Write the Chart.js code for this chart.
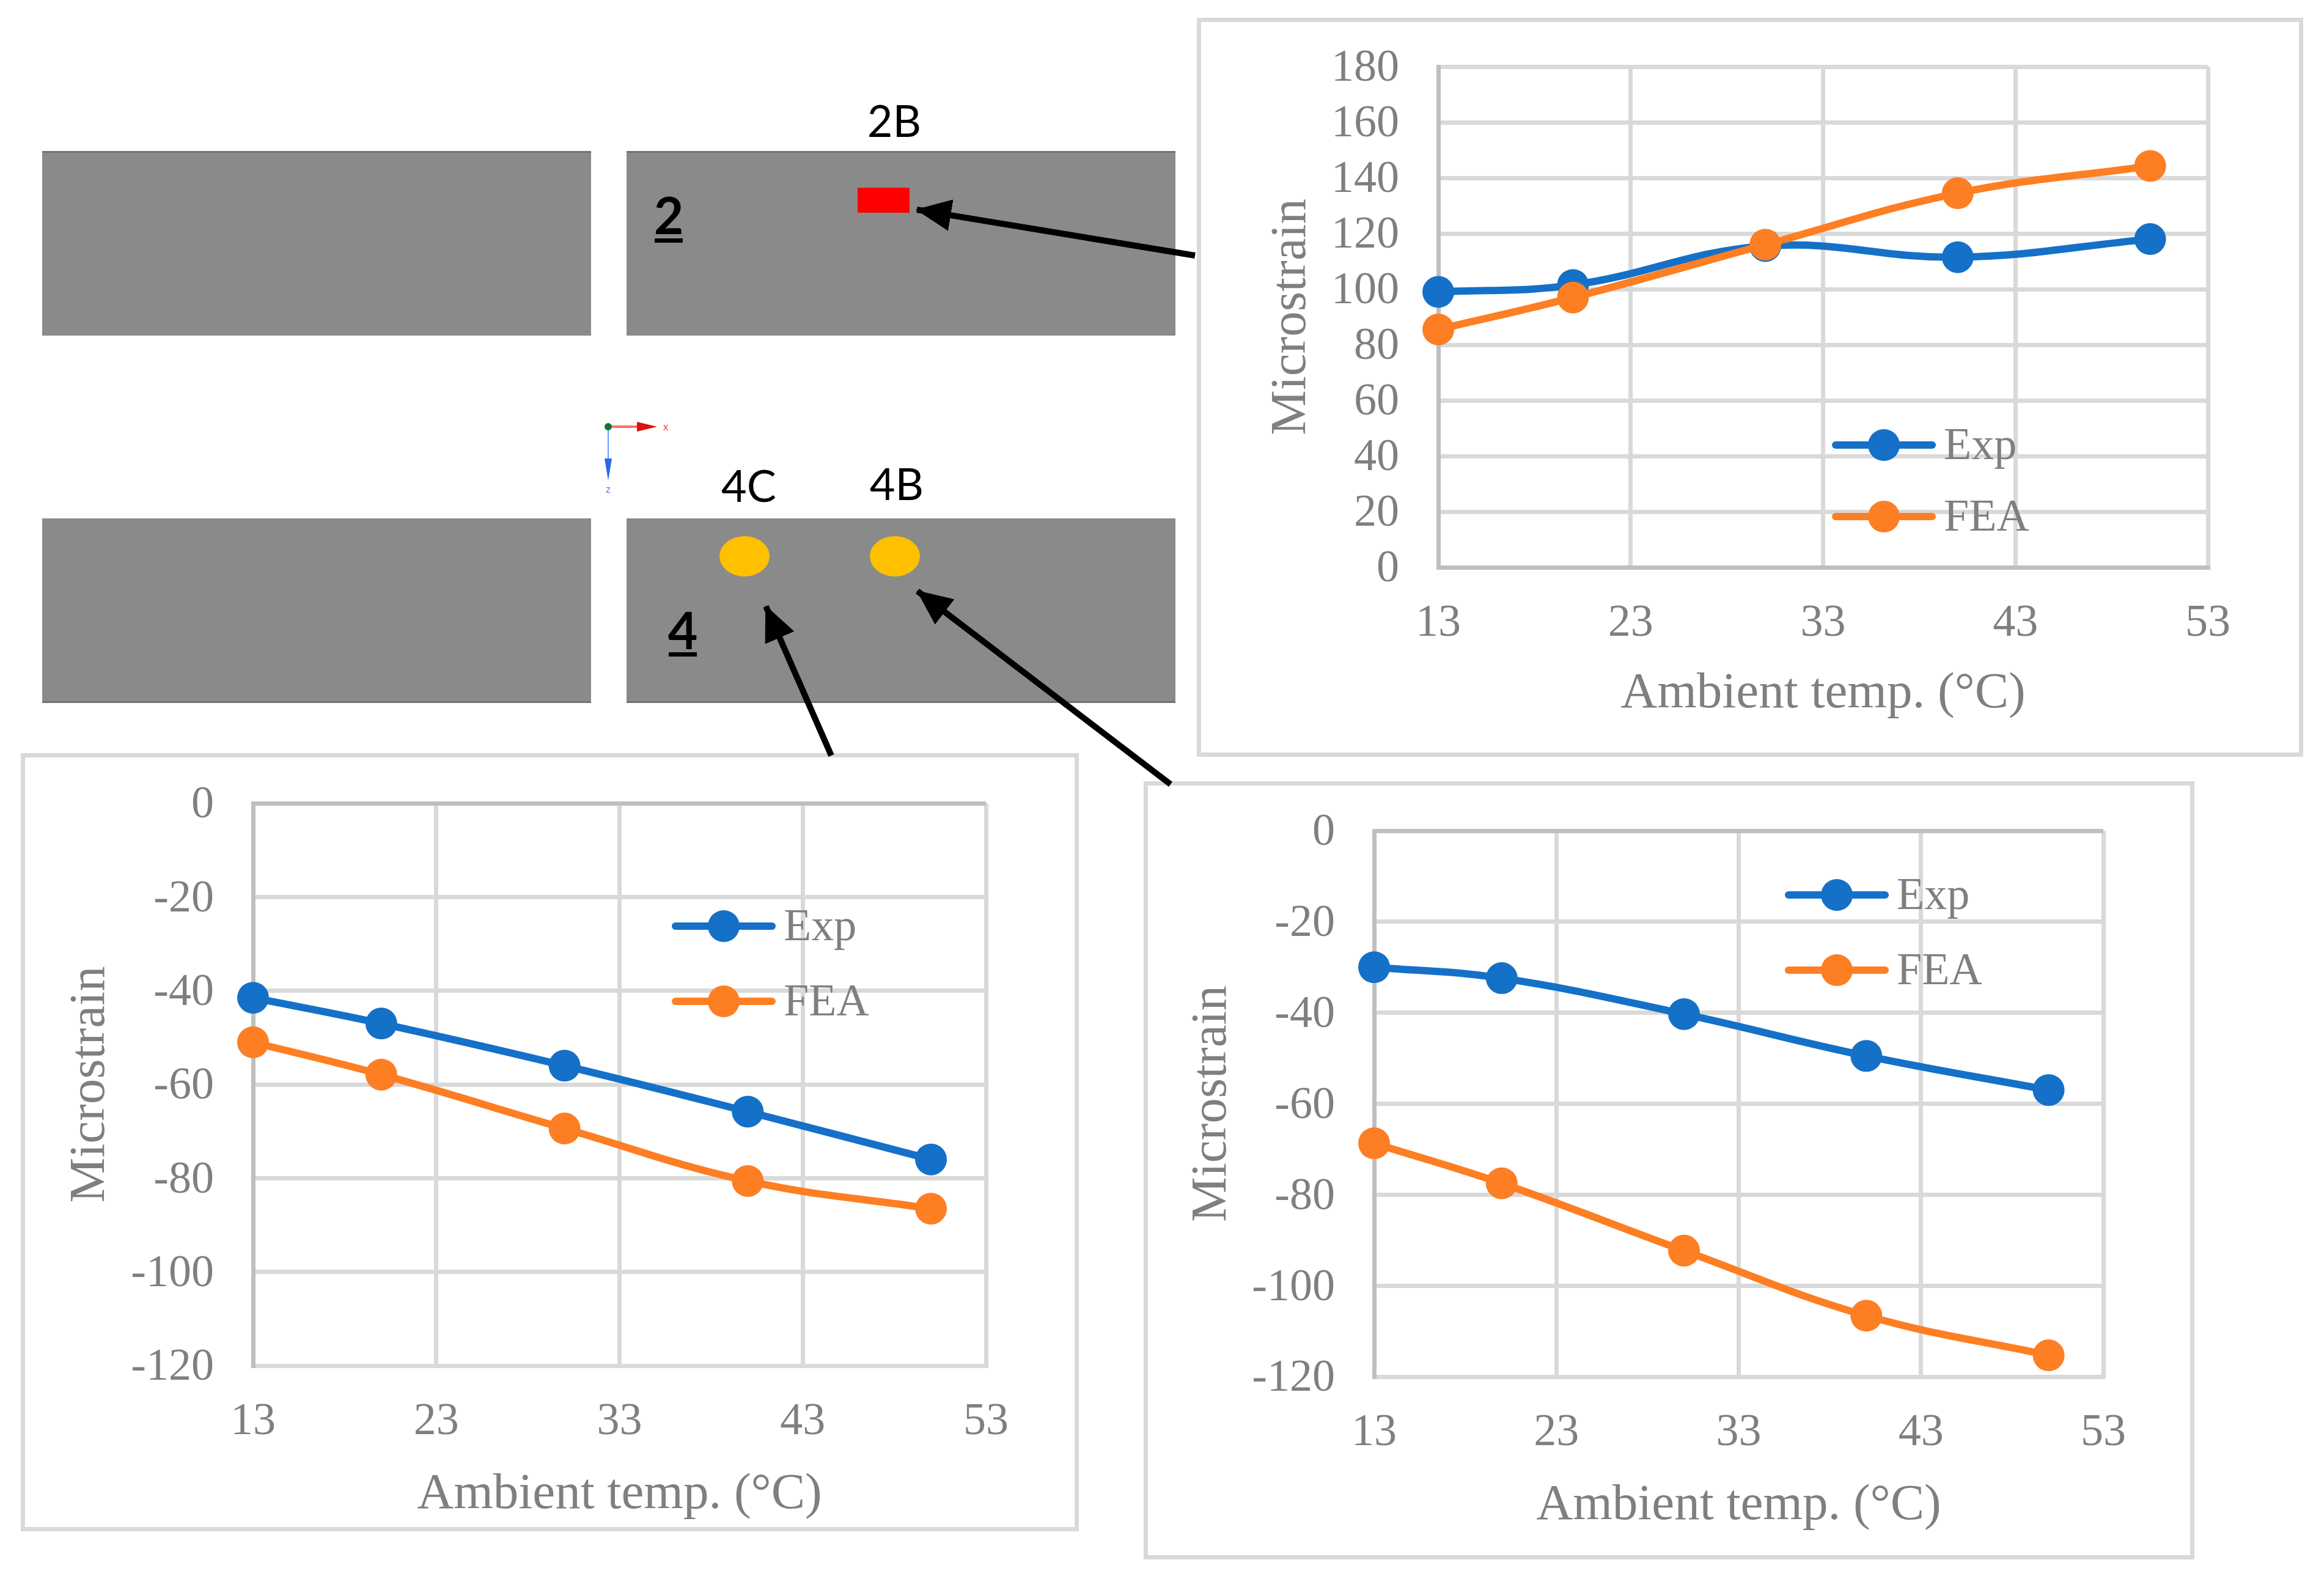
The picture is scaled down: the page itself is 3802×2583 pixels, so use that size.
<!DOCTYPE html>
<html>
<head>
<meta charset="utf-8">
<title>Microstrain vs ambient temperature</title>
<script src="https://cdn.jsdelivr.net/npm/chart.js@4"></script>
<style>
    html, body { margin: 0; padding: 0; background: #ffffff; }
    #page { position: relative; width: 3802px; height: 2583px; overflow: hidden; background: #ffffff; }
    #schematic { position: absolute; left: 0; top: 0; }
    .frame { position: absolute; box-sizing: border-box; border: 7px solid #d9d9d9; background: #ffffff; }
    canvas.panel { position: absolute; }
</style>
</head>
<body>
<div id="page">
    <div class="frame" id="frame2B"></div>
    <div class="frame" id="frame4C"></div>
    <div class="frame" id="frame4B"></div>
    <canvas class="panel" id="chart2B"></canvas>
    <canvas class="panel" id="chart4C"></canvas>
    <canvas class="panel" id="chart4B"></canvas>

    <svg id="schematic" width="3802" height="2583" xmlns="http://www.w3.org/2000/svg">
        <defs>
            <marker id="head" markerUnits="userSpaceOnUse" markerWidth="58" markerHeight="52" refX="56" refY="26" orient="auto">
                <path d="M0,0 L58,26 L0,52 Z" fill="#000"></path>
            </marker>
        </defs>
        <g fill="#8a8a8a">
            <rect x="69" y="248" width="898" height="301"></rect>
            <rect x="1025" y="248" width="898" height="301"></rect>
            <rect x="69" y="848" width="898" height="301"></rect>
            <rect x="1025" y="848" width="898" height="301"></rect>
        </g>
        <g fill="#727272">
            <rect x="69" y="247" width="898" height="3"></rect>
            <rect x="1025" y="247" width="898" height="3"></rect>
            <rect x="69" y="1147" width="898" height="3"></rect>
            <rect x="1025" y="1147" width="898" height="3"></rect>
        </g>
        <rect x="1403" y="307" width="85" height="41" fill="#ff0000"></rect>
        <ellipse cx="1218" cy="910" rx="41" ry="33" fill="#ffc000"></ellipse>
        <ellipse cx="1464" cy="910" rx="41" ry="33" fill="#ffc000"></ellipse>

        <g font-family="Lato" font-size="72" fill="#000" text-anchor="middle">
            <text x="1463" y="224">2B</text>
            <text x="1225" y="821">4C</text>
            <text x="1467" y="818">4B</text>
        </g>
        <g font-family="Lato" font-size="84" font-weight="bold" fill="#000" text-anchor="middle">
            <text x="1094" y="383">2</text>
            <text x="1117" y="1062">4</text>
        </g>
        <rect x="1071" y="390" width="46" height="7" fill="#000"></rect>
        <rect x="1094" y="1067" width="46" height="7" fill="#000"></rect>

        <!-- axis triad -->
        <line x1="995" y1="698" x2="1048" y2="698" stroke="#ff6a6a" stroke-width="4"></line>
        <path d="M1042,690 L1075,698 L1042,706 Z" fill="#e01010"></path>
        <line x1="995" y1="698" x2="995" y2="750" stroke="#6a9cff" stroke-width="2"></line>
        <path d="M989,750 L1001,750 L995,786 Z" fill="#2a6ae0"></path>
        <circle cx="995" cy="698" r="6" fill="#0b7a2b"></circle>
        <text x="1089" y="704" font-family="Liberation Sans" font-size="16" fill="#e04040" text-anchor="middle">x</text>
        <text x="995" y="806" font-family="Liberation Sans" font-size="16" fill="#6a7cf0" text-anchor="middle">z</text>

        <!-- pointers from the plots to the gauges -->
        <g stroke="#000" stroke-width="10" marker-end="url(#head)">
            <line x1="1955" y1="418" x2="1500" y2="343"></line>
            <line x1="1360" y1="1236" x2="1253" y2="992"></line>
            <line x1="1915" y1="1283" x2="1501" y2="967"></line>
        </g>
    </svg>
</div>

<script>
// Data
const ambientTemp = [13, 20, 30, 40, 50];
const tempTicks = [13, 23, 33, 43, 53];
const seriesNames = ['Exp', 'FEA'];

const exp2B = [99, 101.5, 115.5, 111.5, 118];
const fea2B = [85.5, 97, 116, 134.5, 144.3];
const ticks2B = [0, 20, 40, 60, 80, 100, 120, 140, 160, 180];

const exp4C = [-41.5, -47, -56, -65.8, -76];
const fea4C = [-51, -57.9, -69.4, -80.6, -86.5];
const ticks4C = [-120, -100, -80, -60, -40, -20, 0];

const exp4B = [-30, -32.4, -40.3, -49.5, -57];
const fea4B = [-68.7, -77.5, -92.3, -106.6, -115.3];
const ticks4B = [-120, -100, -80, -60, -40, -20, 0];

const BLUE = '#1570c8';
const ORANGE = '#fd7e23';
const GRID = '#d9d9d9';
const AXIS = '#bfbfbf';
const TEXT = '#7f7f7f';
const SERIF = '"Liberation Serif"';

// Draws the line + marker legend inside the plot, where the original has it
const lineLegend = {
    id: 'lineLegend',
    afterDatasetsDraw(chart, args, opts) {
        const ctx = chart.ctx;
        ctx.save();
        chart.data.datasets.forEach((ds, i) => {
            const y = opts.y[i];
            ctx.strokeStyle = ds.borderColor;
            ctx.lineWidth = 12;
            ctx.lineCap = 'round';
            ctx.beginPath();
            ctx.moveTo(opts.x + 6, y);
            ctx.lineTo(opts.x + 164, y);
            ctx.stroke();
            ctx.fillStyle = ds.borderColor;
            ctx.beginPath();
            ctx.arc(opts.x + 85, y, 26, 0, Math.PI * 2);
            ctx.fill();
            ctx.fillStyle = TEXT;
            ctx.font = '74px ' + SERIF;
            ctx.textBaseline = 'middle';
            ctx.textAlign = 'left';
            ctx.fillText(ds.label, opts.x + 183, y + 4);
        });
        ctx.restore();
    }
};

function makePanel(id, frameId, box, plot, titleGap, xHeight, yTicks, expValues, feaValues, legend) {
    const frame = document.getElementById(frameId);
    frame.style.left = box.left + 'px';
    frame.style.top = box.top + 'px';
    frame.style.width = box.width + 'px';
    frame.style.height = box.height + 'px';

    const canvas = document.getElementById(id);
    canvas.style.left = box.left + 'px';
    canvas.style.top = box.top + 'px';
    canvas.width = box.width;
    canvas.height = box.height;

    const yWidth = titleGap + 50;
    const hasZeroAtTop = yTicks[yTicks.length - 1] === 0;

    const line = (label, values, color, order) => ({
        label: label,
        data: ambientTemp.map((t, i) => ({ x: t, y: values[i] })),
        borderColor: color,
        backgroundColor: color,
        borderWidth: 12,
        borderCapStyle: 'round',
        tension: 0.4,
        pointRadius: 26,
        pointHoverRadius: 26,
        pointBorderWidth: 0,
        pointBackgroundColor: color,
        clip: false,
        order: order
    });

    return new Chart(canvas, {
        type: 'line',
        data: {
            datasets: [
                line(seriesNames[0], expValues, BLUE, 2),
                line(seriesNames[1], feaValues, ORANGE, 1)
            ]
        },
        plugins: [lineLegend],
        options: {
            responsive: false,
            animation: false,
            devicePixelRatio: 1,
            layout: {
                padding: {
                    left: plot.left - box.left - yWidth,
                    top: plot.top - box.top,
                    right: box.left + box.width - plot.right,
                    bottom: box.top + box.height - plot.bottom - xHeight
                }
            },
            plugins: {
                legend: { display: false },
                tooltip: { enabled: false },
                lineLegend: {
                    x: legend.x - box.left,
                    y: legend.y.map(v => v - box.top)
                }
            },
            scales: {
                x: {
                    type: 'linear',
                    min: tempTicks[0],
                    max: tempTicks[tempTicks.length - 1],
                    afterBuildTicks: scale => { scale.ticks = tempTicks.map(v => ({ value: v })); },
                    afterFit: scale => { scale.height = xHeight; },
                    grid: { color: GRID, lineWidth: 7, drawTicks: false },
                    border: { color: hasZeroAtTop ? GRID : AXIS, width: 7 },
                    ticks: {
                        color: TEXT,
                        font: { family: SERIF, size: 74 },
                        padding: 48,
                        maxRotation: 0,
                        autoSkip: false,
                        callback: v => String(v)
                    },
                    title: {
                        display: true,
                        text: 'Ambient temp. (°C)',
                        color: TEXT,
                        font: { family: SERIF, size: 83 },
                        padding: 0
                    }
                },
                y: {
                    min: yTicks[0],
                    max: yTicks[yTicks.length - 1],
                    afterBuildTicks: scale => { scale.ticks = yTicks.map(v => ({ value: v })); },
                    afterFit: scale => { scale.width = yWidth; },
                    grid: {
                        color: c => (c.tick && c.tick.value === 0 ? AXIS : GRID),
                        lineWidth: 7,
                        // invisible tick marks make the label gap, ticks.padding would also push the plot top down
                        drawTicks: true,
                        tickLength: 64,
                        tickColor: 'rgba(0,0,0,0)'
                    },
                    border: { color: AXIS, width: 7 },
                    ticks: {
                        color: TEXT,
                        font: { family: SERIF, size: 74 },
                        padding: 0,
                        labelOffset: 4,
                        autoSkip: false,
                        callback: v => String(v)
                    },
                    title: {
                        display: true,
                        text: 'Microstrain',
                        color: TEXT,
                        font: { family: SERIF, size: 83 },
                        padding: 0
                    }
                }
            }
        }
    });
}

makePanel('chart2B', 'frame2B',
    { left: 1958, top: 29, width: 1810, height: 1209 },
    { left: 2353, top: 109, right: 3612, bottom: 928 },
    240, 257, ticks2B, exp2B, fea2B,
    { x: 2997, y: [728, 845] });

makePanel('chart4C', 'frame4C',
    { left: 34, top: 1232, width: 1731, height: 1273 },
    { left: 414, top: 1314, right: 1613, bottom: 2234 },
    266, 261, ticks4C, exp4C, fea4C,
    { x: 1099, y: [1515, 1638] });

makePanel('chart4B', 'frame4B',
    { left: 1871, top: 1278, width: 1719, height: 1273 },
    { left: 2248, top: 1359, right: 3441, bottom: 2252 },
    265, 261, ticks4B, exp4B, fea4B,
    { x: 2920, y: [1464, 1587] });
</script>
</body>
</html>
